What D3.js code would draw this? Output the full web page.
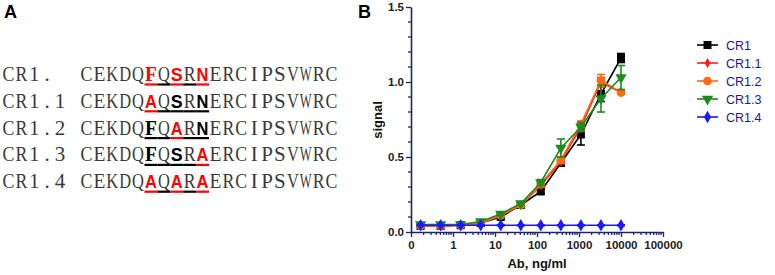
<!DOCTYPE html>
<html><head><meta charset="utf-8">
<script src="https://cdn.jsdelivr.net/npm/d3@7"></script>
<style>body{margin:0;background:#fff}svg{display:block}</style>
</head><body>
<svg id="c" width="775" height="275"></svg>
<script>
// ---------- data ----------
const seqNames = ["CR1.", "CR1.1", "CR1.2", "CR1.3", "CR1.4"];
const seqs = [
  "CEKDQFQSRNERCIPSVWRC",
  "CEKDQAQSRNERCIPSVWRC",
  "CEKDQFQARNERCIPSVWRC",
  "CEKDQFQSRAERCIPSVWRC",
  "CEKDQAQARAERCIPSVWRC"
];
// per-character style within the underlined motif (positions 5..9): r = red bold, b = black bold, n = normal
const motifStyles = [
  "rnrnr",
  "rnbnb",
  "bnrnb",
  "bnbnr",
  "rnrnr"
];
const conc = [0.169, 0.508, 1.52, 4.57, 13.7, 41.2, 123, 370, 1111, 3333, 10000];
const seriesNames = ["CR1", "CR1.1", "CR1.2", "CR1.3", "CR1.4"];
const cr1   = [0.04, 0.04, 0.045, 0.06, 0.10, 0.18, 0.27, 0.46, 0.65, 0.92, 1.16];
const cr1_1 = [0.04, 0.04, 0.045, 0.06, 0.11, 0.18, 0.31, 0.47, 0.70, 1.00, 0.93];
const cr1_2 = [0.04, 0.04, 0.045, 0.06, 0.11, 0.18, 0.32, 0.48, 0.72, 1.01, 0.93];
const cr1_3 = [0.05, 0.05, 0.05, 0.07, 0.12, 0.19, 0.33, 0.56, 0.70, 0.89, 1.03];
const cr1_4 = [0.045, 0.045, 0.045, 0.045, 0.045, 0.045, 0.045, 0.045, 0.045, 0.045, 0.045];
const err1   = [0.005, 0.005, 0.005, 0.01, 0.01, 0.01, 0.015, 0.02, 0.07, 0.05, 0.03];
const err1_1 = [0.005, 0.005, 0.005, 0.005, 0.01, 0.01, 0.015, 0.015, 0.02, 0.03, 0.01];
const err1_2 = [0.005, 0.005, 0.005, 0.005, 0.01, 0.01, 0.015, 0.02, 0.02, 0.04, 0.01];
const err1_3 = [0.005, 0.005, 0.005, 0.01, 0.01, 0.01, 0.02, 0.06, 0.03, 0.09, 0.08];
const err1_4 = [0.003, 0.003, 0.003, 0.003, 0.003, 0.003, 0.003, 0.003, 0.003, 0.003, 0.003];
const yTicks = [0.0, 0.5, 1.0, 1.5];
const xTicks = [0.1, 1, 10, 100, 1000, 10000, 100000];

const svg = d3.select("#c");
const font = "Arial, Liberation Sans, sans-serif";
const serif = "Liberation Serif, Times New Roman, serif";

// ---------- panel A ----------
svg.append("text").attr("x", 4).attr("y", 18).text("A")
  .attr("font-family", font).attr("font-weight", "bold").attr("font-size", 18).attr("fill", "#000");

const cw = 12.9, fs = 21, seqX = 80, maxW = cw - 1.0;
// each glyph sits in a fixed-width (monospace) cell; wide glyphs are squeezed horizontally
function cellChar(ch, cx, base, o) {
  const t = svg.append("text").attr("text-anchor", "middle").text(ch)
    .attr("font-family", o.family).attr("font-size", o.size)
    .attr("font-weight", o.weight).attr("fill", o.fill);
  const w = t.node().getComputedTextLength();
  const k = w > maxW ? maxW / w : 1;
  t.attr("transform", `translate(${cx},${base}) scale(${k.toFixed(3)},1)`);
}
const plain = {family: serif, size: fs, weight: "normal", fill: "#3a3a3a"};
seqNames.forEach((name, r) => {
  const base = 81 + r * 26.8;
  name.split("").forEach((ch, i) => cellChar(ch, 2 + (i + 0.5) * cw, base, plain));
  seqs[r].split("").forEach((ch, i) => {
    let st = "n";
    if (i >= 5 && i <= 9) st = motifStyles[r][i - 5];
    const cx = seqX + (i + 0.5) * cw;
    if (st === "n") cellChar(ch, cx, base, plain);
    else cellChar(ch, cx, base, {family: ch === "F" ? serif : font, size: ch === "F" ? fs : 19,
      weight: "bold", fill: st === "r" ? "#ff0000" : "#000"});
    if (i >= 5 && i <= 9) {
      svg.append("line").attr("x1", seqX + i * cw).attr("x2", seqX + (i + 1) * cw)
        .attr("y1", base + 3.5).attr("y2", base + 3.5)
        .attr("stroke", st === "r" ? "#ff0000" : "#000").attr("stroke-width", 2.2);
    }
  });
});

// ---------- panel B ----------
svg.append("text").attr("x", 358).attr("y", 18).text("B")
  .attr("font-family", font).attr("font-weight", "bold").attr("font-size", 18).attr("fill", "#000");

const x = d3.scaleLog().domain([0.1, 100000]).range([411, 663]);
const y = d3.scaleLinear().domain([0, 1.5]).range([232, 7]);
const axisCol = "#1c2474";

// y axis
const yAxis = svg.append("g").attr("transform", "translate(411,0)");
yAxis.call(d3.axisLeft(y).tickValues(yTicks).tickFormat(d3.format(".1f")).tickSize(5).tickSizeOuter(0));
const yMinor = d3.range(0, 1.51, 0.1).map(v => +v.toFixed(2)).filter(v => !yTicks.includes(v));
yAxis.selectAll(".minor").data(yMinor).enter().append("line").attr("class", "minor")
  .attr("x1", -3).attr("x2", 0).attr("y1", d => y(d)).attr("y2", d => y(d));
// x axis
const xAxis = svg.append("g").attr("transform", "translate(0,232)");
xAxis.call(d3.axisBottom(x).tickValues(xTicks).tickFormat(d3.format("d")).tickSize(5).tickSizeOuter(0));
const xMinor = [];
for (let dcd = 0.1; dcd < 100000; dcd *= 10) for (let k = 2; k <= 9; k++) xMinor.push(dcd * k);
xAxis.selectAll(".minor").data(xMinor).enter().append("line").attr("class", "minor")
  .attr("x1", d => x(d)).attr("x2", d => x(d)).attr("y1", 0).attr("y2", 3);

[yAxis, xAxis].forEach(a => {
  a.select(".domain").attr("stroke", axisCol).attr("stroke-width", 1.6);
  a.selectAll(".tick line, .minor").attr("stroke", axisCol).attr("stroke-width", 1.3);
  a.selectAll("text").attr("font-family", font).attr("font-weight", "bold").attr("font-size", 11.5).attr("fill", "#222");
});
yAxis.selectAll(".tick text").attr("x", -7);
xAxis.selectAll(".tick text").attr("y", 9);

svg.append("text").attr("x", 537).attr("y", 268).attr("text-anchor", "middle").text("Ab, ng/ml")
  .attr("font-family", font).attr("font-weight", "bold").attr("font-size", 13).attr("fill", "#111");
svg.append("text").attr("transform", "translate(382,120) rotate(-90)").attr("text-anchor", "middle").text("signal")
  .attr("font-family", font).attr("font-weight", "bold").attr("font-size", 13).attr("fill", "#111");

// series
const series = [
  {name: seriesNames[0], vals: cr1,   err: err1,   color: "#000000", sym: d3.symbolSquare,   size: 64},
  {name: seriesNames[1], vals: cr1_1, err: err1_1, color: "#ff1a1a", sym: d3.symbolDiamond,  size: 30},
  {name: seriesNames[2], vals: cr1_2, err: err1_2, color: "#ff6a13", sym: d3.symbolCircle,   size: 60},
  {name: seriesNames[3], vals: cr1_3, err: err1_3, color: "#1f8a1f", sym: d3.symbolTriangle, size: 55, rot: 180},
  {name: seriesNames[4], vals: cr1_4, err: err1_4, color: "#1a1aff", sym: d3.symbolDiamond,  size: 45}
];
const line = d3.line().x(d => x(d[0])).y(d => y(d[1]));
series.forEach(s => {
  const g = svg.append("g");
  const pts = conc.map((c, i) => [c, s.vals[i], s.err[i]]);
  g.append("path").datum(pts).attr("d", line).attr("fill", "none").attr("stroke", s.color).attr("stroke-width", 1.6);
  pts.forEach(p => {
    const px = x(p[0]), y1 = y(p[1] + p[2]), y2 = y(p[1] - p[2]);
    g.append("line").attr("x1", px).attr("x2", px).attr("y1", y1).attr("y2", y2).attr("stroke", s.color).attr("stroke-width", 1.6);
    [y1, y2].forEach(yy => g.append("line").attr("x1", px - 4).attr("x2", px + 4).attr("y1", yy).attr("y2", yy)
      .attr("stroke", s.color).attr("stroke-width", 1.6));
    g.append("path").attr("d", d3.symbol().type(s.sym).size(s.size)())
      .attr("transform", `translate(${px},${y(p[1])})` + (s.rot ? ` rotate(${s.rot})` : ""))
      .attr("fill", s.color);
  });
});

// legend
const lg = svg.append("g");
series.forEach((s, i) => {
  const ly = 45 + i * 18;
  lg.append("line").attr("x1", 697).attr("x2", 718).attr("y1", ly).attr("y2", ly).attr("stroke", s.color).attr("stroke-width", 1.6);
  lg.append("path").attr("d", d3.symbol().type(s.sym).size(s.size)())
    .attr("transform", `translate(707.5,${ly})` + (s.rot ? ` rotate(${s.rot})` : "")).attr("fill", s.color);
  lg.append("text").attr("x", 726).attr("y", ly + 4.5).text(s.name)
    .attr("font-family", font).attr("font-size", 12.5).attr("fill", "#1a1a8a");
});
</script>
</body></html>
